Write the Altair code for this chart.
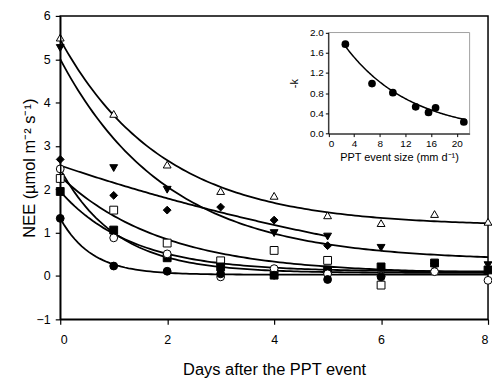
import altair as alt
import numpy as np
import pandas as pd

# ---------------- data ----------------
series_names = ["open_triangle", "down_triangle", "diamond", "open_square",
                "filled_square", "open_circle", "filled_circle"]
series_shapes = ["triangle-up", "triangle-down", "diamond", "square",
                 "square", "circle", "circle"]
series_fills = ["white", "black", "black", "white", "black", "white", "black"]

days_ot = [0, 1, 2, 3, 4, 5, 6, 7, 8]
nee_ot = [5.50, 3.74, 2.57, 1.96, 1.85, 1.40, 1.22, 1.43, 1.25]
days_dt = [0, 1, 2, 4, 5, 6, 7, 8]
nee_dt = [5.26, 2.49, 1.99, 0.99, 0.91, 0.65, 0.22, 0.25]
days_di = [0, 1, 2, 3, 4, 5]
nee_di = [2.69, 1.86, 1.52, 1.59, 1.29, 0.70]
days_os = [0, 1, 2, 3, 4, 5, 6]
nee_os = [2.25, 1.52, 0.76, 0.35, 0.59, 0.36, -0.21]
days_fs = [0, 1, 2, 3, 4, 5, 6, 7, 8]
nee_fs = [1.95, 1.06, 0.42, 0.21, 0.02, 0.14, 0.21, 0.30, 0.14]
days_oc = [0, 1, 2, 3, 4, 5, 6, 7, 8]
nee_oc = [2.47, 0.88, 0.51, -0.02, 0.17, 0.05, 0.00, 0.10, -0.10]
days_fc = [0, 1, 2, 3, 4, 5, 6]
nee_fc = [1.33, 0.23, 0.11, 0.05, 0.02, -0.08, -0.02]

# fitted exponential decay curves: NEE = a*exp(-k*t) + c, drawn up to t_end
fit_a = [4.30, 4.65, 4.00, 2.25, 1.85, 2.40, 1.30]
fit_k = [0.52, 0.50, 0.105, 0.52, 0.75, 0.95, 1.70]
fit_c = [1.15, 0.35, -1.45, 0.05, 0.10, 0.07, 0.03]
fit_end = [8, 8, 5, 8, 8, 8, 8]

# inset: decay constant vs PPT event size
ppt_size = [2.65, 6.8, 10.05, 13.6, 15.6, 16.7, 21.1]
neg_k = [1.77, 0.99, 0.81, 0.53, 0.42, 0.51, 0.23]
inset_a, inset_k, inset_start, inset_end = 2.24, 0.098, 2.5, 21.5

# ---------------- tables ----------------
all_days = [days_ot, days_dt, days_di, days_os, days_fs, days_oc, days_fc]
all_nee = [nee_ot, nee_dt, nee_di, nee_os, nee_fs, nee_oc, nee_fc]
pts = pd.concat([pd.DataFrame({"day": d, "nee": v, "series": s})
                 for d, v, s in zip(all_days, all_nee, series_names)])

curves = []
for s, a, k, c, e in zip(series_names, fit_a, fit_k, fit_c, fit_end):
    t = np.linspace(0, e, 120)
    curves.append(pd.DataFrame({"day": t, "nee": a * np.exp(-k * t) + c, "series": s}))
curves = pd.concat(curves)

inset_pts = pd.DataFrame({"ppt": ppt_size, "k": neg_k})
tt = np.linspace(inset_start, inset_end, 100)
inset_curve = pd.DataFrame({"ppt": tt, "k": inset_a * np.exp(-inset_k * tt)})
inset_box = pd.DataFrame({"ppt": [0], "ppt2": [22], "k": [0], "k2": [2]})

# ---------------- encodings ----------------
W, H = 430, 305
xm = alt.X("day:Q", scale=alt.Scale(domain=[0, 8], nice=False, zero=False),
           axis=alt.Axis(values=[0, 2, 4, 6, 8], title="Days after the PPT event",
                         labelPadding=9, titleY=55, titleBaseline="alphabetic", zindex=1))
ym = alt.Y("nee:Q", scale=alt.Scale(domain=[-1, 6], nice=False, zero=False),
           axis=alt.Axis(values=list(range(-1, 7)), title="NEE (µmol m⁻² s⁻¹)",
                         labelPadding=5, titleX=-31, titleBaseline="middle", zindex=1))

lines = alt.Chart(curves).mark_line(color="black", strokeWidth=1.8).encode(
    x=xm, y=ym, detail="series:N")
points = alt.Chart(pts).mark_point(filled=True, stroke="black", strokeWidth=1,
                                   opacity=1, size=62).encode(
    x=xm, y=ym,
    shape=alt.Shape("series:N", scale=alt.Scale(domain=series_names, range=series_shapes), legend=None),
    fill=alt.Fill("series:N", scale=alt.Scale(domain=series_names, range=series_fills), legend=None),
)
main = alt.layer(lines, points)

ix = alt.X("ppt:Q", scale=alt.Scale(domain=[0, 22], range=[269.5, 411.5], nice=False, zero=False),
           axis=alt.Axis(values=[0, 4, 8, 12, 16, 20], title="PPT event size (mm d⁻¹)",
                         orient="bottom", offset=-186.7, labelFontSize=10, titleFontSize=11,
                         tickSize=3, labelPadding=2, titlePadding=3, zindex=2,
                         domainWidth=1, tickWidth=1))
iy = alt.Y("k:Q", scale=alt.Scale(domain=[0, 2], range=[118.3, 16.7], nice=False, zero=False),
           axis=alt.Axis(values=[0, 0.4, 0.8, 1.2, 1.6, 2.0], format=".1f", title="-k",
                         orient="left", offset=-269.5, labelFontSize=10, titleFontSize=11,
                         tickSize=3, labelPadding=2, titlePadding=10, zindex=2,
                         domainWidth=1, tickWidth=1))

box = alt.Chart(inset_box).mark_rect(fill="white", stroke="#a0a0a0", strokeWidth=1).encode(
    x=ix, x2="ppt2:Q", y=iy, y2="k2:Q")
iline = alt.Chart(inset_curve).mark_line(color="black", strokeWidth=1.5).encode(x=ix, y=iy)
ipts = alt.Chart(inset_pts).mark_circle(color="black", size=60, opacity=1).encode(x=ix, y=iy)
inset = alt.layer(box, iline, ipts)

chart = alt.layer(main, inset).resolve_scale(x="independent", y="independent").properties(
    width=W, height=H,
    autosize=alt.AutoSizeParams(type="none"),
    padding={"left": 52.5, "top": 7, "right": 4, "bottom": 60},
).configure(font="Liberation Sans").configure_view(
    stroke="black", strokeWidth=1.5
).configure_axis(
    labelFont="Liberation Sans", titleFont="Liberation Sans",
    labelFontSize=12.5, titleFontSize=16.5, titleFontWeight="normal",
    labelColor="black", titleColor="black", domainColor="black", tickColor="black",
    domainWidth=1.5, tickWidth=1.2, tickSize=5, grid=False,
)

chart.save("out.html", embed_options={"renderer": "svg", "actions": False})
